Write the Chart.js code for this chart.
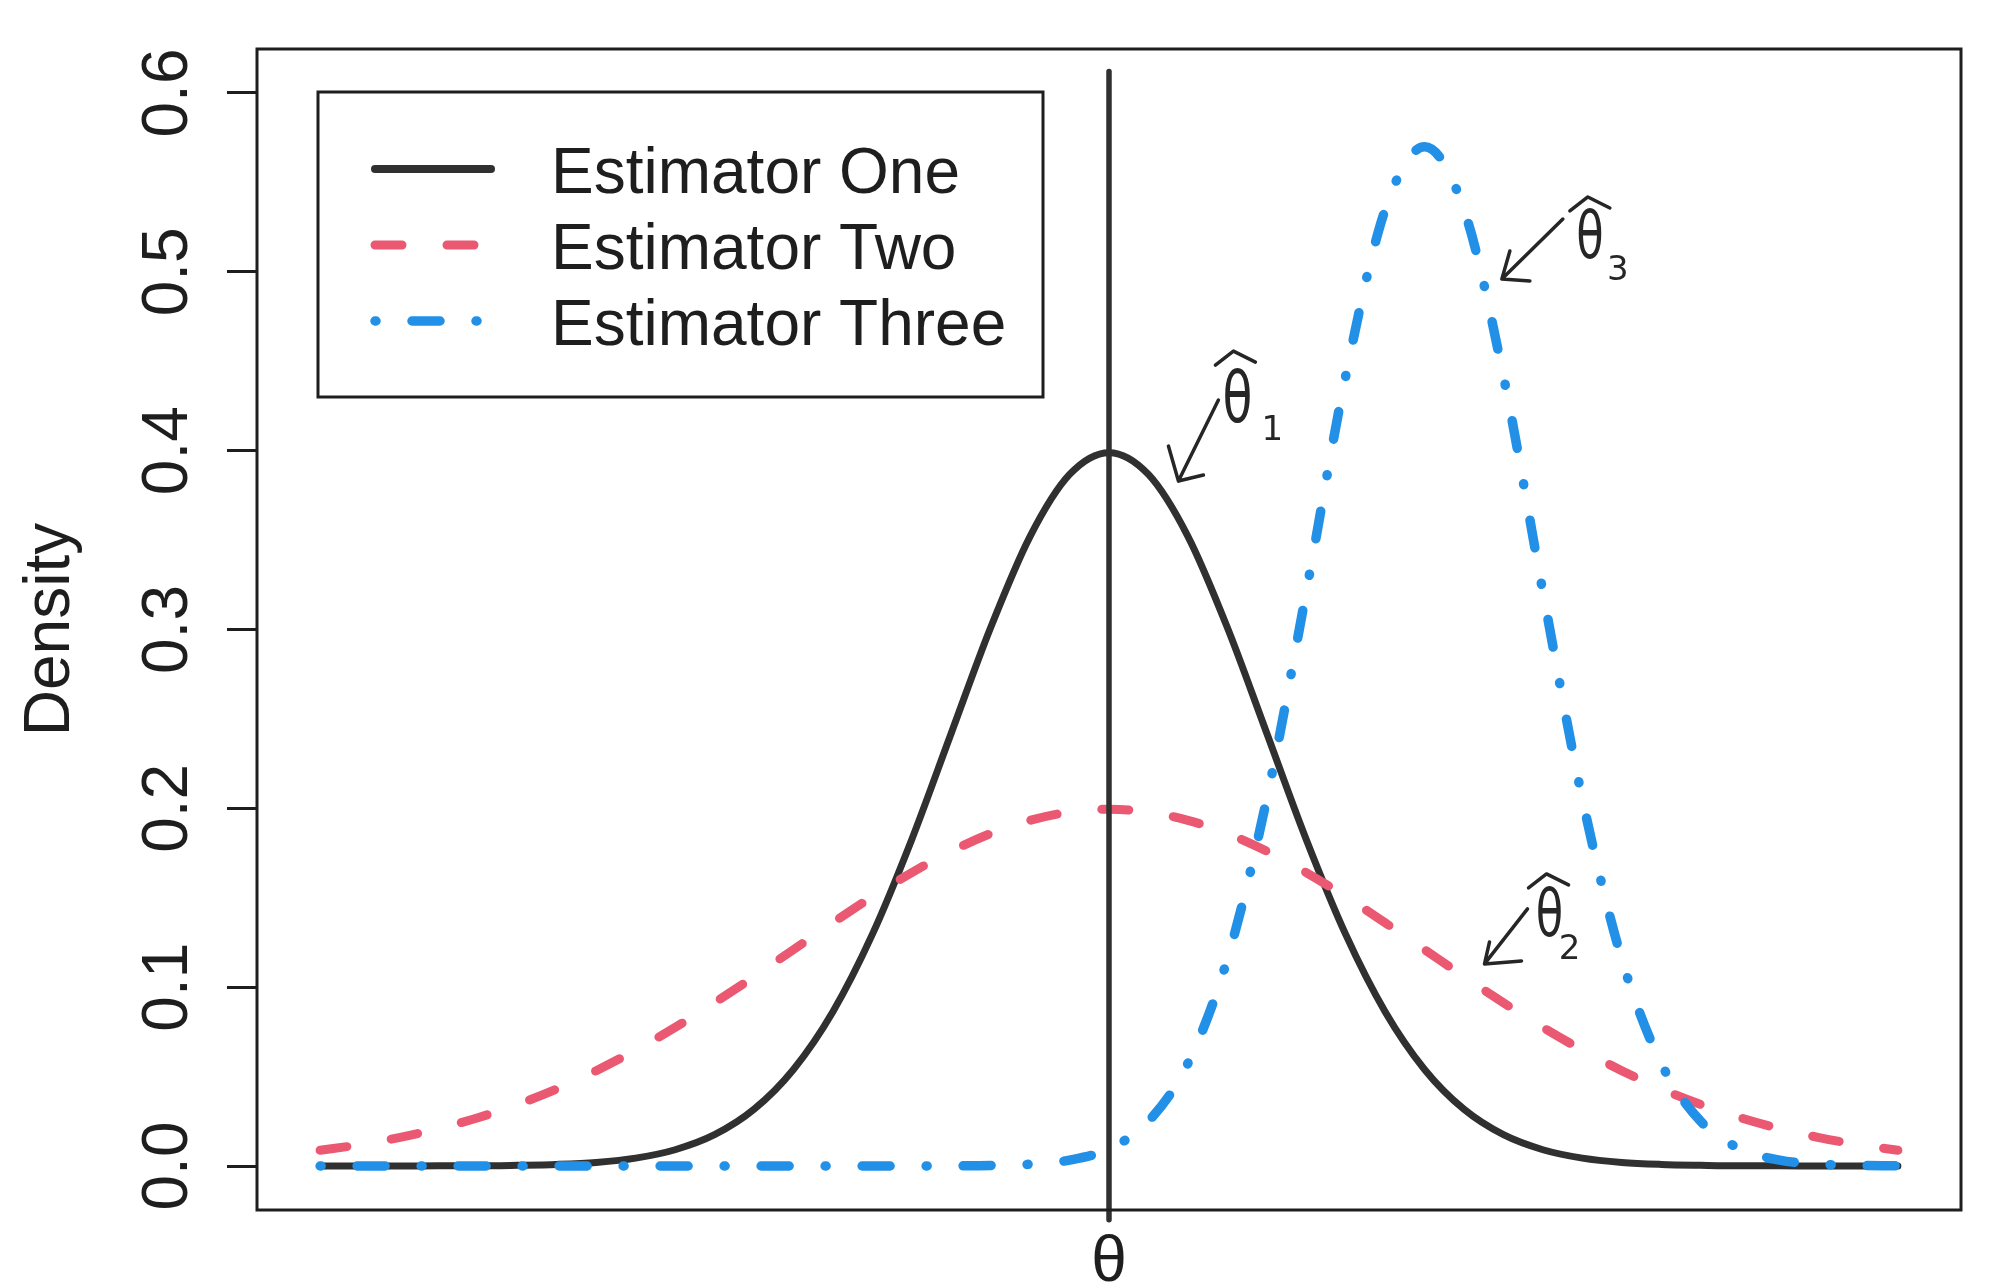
<!DOCTYPE html>
<html>
<head>
<meta charset="utf-8">
<script src="https://cdn.jsdelivr.net/npm/chart.js@4.4.1/dist/chart.umd.min.js"></script>
<style>
  html, body { margin: 0; padding: 0; background: #fff; }
  #wrap { width: 2000px; height: 1285px; }
</style>
</head>
<body>
<div id="wrap"><canvas id="densityChart" width="2000" height="1285"></canvas></div>
<script>
// x positions shared by all three curves
const xValues = [-5, -4.75, -4.5, -4.25, -4, -3.75, -3.5, -3.25, -3, -2.75, -2.5, -2.25, -2, -1.75, -1.5, -1.25, -1, -0.75, -0.5, -0.25,
  0, 0.25, 0.5, 0.75, 1, 1.25, 1.5, 1.75, 2, 2.25, 2.5, 2.75, 3, 3.25, 3.5, 3.75, 4, 4.25, 4.5, 4.75, 5];

// density
const estimatorOne = [0.0000, 0.0000, 0.0000, 0.0001, 0.0001, 0.0004, 0.0009, 0.0020, 0.0044, 0.0091, 0.0175, 0.0317, 0.0540, 0.0863, 0.1295, 0.1826, 0.2420, 0.3011, 0.3521, 0.3867,
  0.3989, 0.3867, 0.3521, 0.3011, 0.2420, 0.1826, 0.1295, 0.0863, 0.0540, 0.0317, 0.0175, 0.0091, 0.0044, 0.0020, 0.0009, 0.0004, 0.0001, 0.0001, 0.0000, 0.0000, 0.0000];
const estimatorTwo = [0.0088, 0.0119, 0.0159, 0.0209, 0.0270, 0.0344, 0.0431, 0.0533, 0.0648, 0.0775, 0.0913, 0.1059, 0.1210, 0.1360, 0.1506, 0.1641, 0.1760, 0.1859, 0.1933, 0.1979,
  0.1995, 0.1979, 0.1933, 0.1859, 0.1760, 0.1641, 0.1506, 0.1360, 0.1210, 0.1059, 0.0913, 0.0775, 0.0648, 0.0533, 0.0431, 0.0344, 0.0270, 0.0209, 0.0159, 0.0119, 0.0088];
const estimatorThree = [0.0000, 0.0000, 0.0000, 0.0000, 0.0000, 0.0000, 0.0000, 0.0000, 0.0000, 0.0000, 0.0000, 0.0000, 0.0000, 0.0000, 0.0000, 0.0000, 0.0001, 0.0003, 0.0010, 0.0033,
  0.0096, 0.0250, 0.0574, 0.1157, 0.2054, 0.3210, 0.4416, 0.5347, 0.5699, 0.5347, 0.4416, 0.3210, 0.2054, 0.1157, 0.0574, 0.0250, 0.0096, 0.0033, 0.0010, 0.0003, 0.0001];

// vertical reference line at the true value
const thetaLineX = [0, 0];
const thetaLineY = [-0.03, 0.612];

const seriesNames = ['Estimator One', 'Estimator Two', 'Estimator Three'];
const yTickValues = [0, 0.1, 0.2, 0.3, 0.4, 0.5, 0.6];
const yTickLabels = ['0.0', '0.1', '0.2', '0.3', '0.4', '0.5', '0.6'];
const xTickValue = 0;
const xTickLabel = 'θ';

// hand-written arrows: tip sits on the curve (data units)
const hatTips = [
  { sub: '1', x: 0.44, y: 0.383 },
  { sub: '2', x: 2.38, y: 0.113 },
  { sub: '3', x: 2.49, y: 0.496 }
];

const COLORS = { one: '#303030', two: '#EA5872', three: '#2290E6', ink: '#1e1e1e' };
const FONT = '"Liberation Sans", Arial, Helvetica, sans-serif';
const DASH_TWO = [27, 45];
const DASH_THREE = [1, 36, 28, 36];

const points = ys => xValues.map((x, i) => ({ x, y: ys[i] }));

/** box, rotated y labels, theta label, legend and pen notes */
const rDecor = {
  id: 'rDecor',
  afterDatasetsDraw(chart) {
    const { ctx, chartArea: a, scales: { x, y } } = chart;
    ctx.save();

    // plot frame
    ctx.strokeStyle = COLORS.ink;
    ctx.lineWidth = 3;
    ctx.strokeRect(a.left, a.top, a.right - a.left, a.bottom - a.top);

    // y tick labels, turned like R's las=0
    ctx.fillStyle = COLORS.ink;
    ctx.font = `64px ${FONT}`;
    ctx.textAlign = 'center';
    ctx.textBaseline = 'alphabetic';
    yTickValues.forEach((v, i) => {
      ctx.save();
      ctx.translate(a.left - 70, y.getPixelForValue(v));
      ctx.rotate(-Math.PI / 2);
      ctx.fillText(yTickLabels[i], 0, 0);
      ctx.restore();
    });

    // x label
    ctx.fillText(xTickLabel, x.getPixelForValue(xTickValue), a.bottom + 71);

    // legend
    const lx = a.left + 61, ly = a.top + 43;
    ctx.lineWidth = 3;
    ctx.strokeRect(lx, ly, 725, 305);
    const rows = [
      { color: COLORS.one, width: 8, dash: [] },
      { color: COLORS.two, width: 9, dash: DASH_TWO },
      { color: COLORS.three, width: 9.5, dash: DASH_THREE }
    ];
    rows.forEach((r, i) => {
      const cy = ly + 77 + i * 76;
      ctx.save();
      ctx.strokeStyle = r.color;
      ctx.lineWidth = r.width;
      ctx.lineCap = 'round';
      ctx.setLineDash(r.dash);
      ctx.beginPath();
      ctx.moveTo(lx + 57, cy);
      ctx.lineTo(lx + 173, cy);
      ctx.stroke();
      ctx.restore();

      ctx.textAlign = 'left';
      ctx.fillText(seriesNames[i], lx + 233, cy + 24);
    });

    // pen annotations
    const notes = {
      '1': { tail: [40, -81], h1: [-10, -35], h2: [25, -6], th: [59, -78], size: 72, hat: [55, -123], sb: [94, -50] },
      '2': { tail: [43, -55], h1: [5, -22], h2: [37, -3], th: [65, -45], size: 66, hat: [62, -83], sb: [85, -14] },
      '3': { tail: [61, -60], h1: [8, -28], h2: [28, 2], th: [88, -38], size: 66, hat: [86, -75], sb: [116, -8] }
    };
    ctx.strokeStyle = '#262626';
    ctx.fillStyle = '#262626';
    ctx.lineWidth = 3.5;
    ctx.lineCap = 'round';
    ctx.lineJoin = 'round';
    hatTips.forEach(t => {
      const n = notes[t.sub];
      const px = x.getPixelForValue(t.x), py = y.getPixelForValue(t.y);
      ctx.beginPath();
      ctx.moveTo(px + n.tail[0], py + n.tail[1]);
      ctx.lineTo(px, py);
      ctx.moveTo(px + n.h1[0], py + n.h1[1]);
      ctx.lineTo(px, py);
      ctx.lineTo(px + n.h2[0], py + n.h2[1]);
      ctx.stroke();

      const hx = px + n.hat[0], hy = py + n.hat[1];
      ctx.beginPath();
      ctx.moveTo(hx - 18, hy + 7);
      ctx.lineTo(hx, hy - 7);
      ctx.lineTo(hx + 22, hy + 4);
      ctx.stroke();

      ctx.save();
      ctx.translate(px + n.th[0], py + n.th[1]);
      ctx.scale(0.68, 1);
      ctx.font = `${n.size}px "DejaVu Sans", sans-serif`;
      ctx.textAlign = 'center';
      ctx.textBaseline = 'middle';
      ctx.fillText('θ', 0, 0);
      ctx.restore();

      ctx.font = '34px "DejaVu Sans", sans-serif';
      ctx.textAlign = 'center';
      ctx.textBaseline = 'middle';
      ctx.fillText(t.sub, px + n.sb[0], py + n.sb[1]);
    });

    ctx.restore();
  }
};

new Chart(document.getElementById('densityChart'), {
  type: 'scatter',
  data: {
    datasets: [
      {
        label: 'theta',
        data: thetaLineX.map((x, i) => ({ x, y: thetaLineY[i] })),
        showLine: true, borderColor: COLORS.one, borderWidth: 5.5, borderCapStyle: 'round',
        pointRadius: 0, clip: false, order: 0
      },
      {
        label: seriesNames[2],
        data: points(estimatorThree),
        showLine: true, borderColor: COLORS.three, borderWidth: 9.5, borderCapStyle: 'round',
        borderDash: DASH_THREE, cubicInterpolationMode: 'monotone', pointRadius: 0, order: 1
      },
      {
        label: seriesNames[1],
        data: points(estimatorTwo),
        showLine: true, borderColor: COLORS.two, borderWidth: 9, borderCapStyle: 'round',
        borderDash: DASH_TWO, cubicInterpolationMode: 'monotone', pointRadius: 0, order: 2
      },
      {
        label: seriesNames[0],
        data: points(estimatorOne),
        showLine: true, borderColor: COLORS.one, borderWidth: 7, borderCapStyle: 'round',
        cubicInterpolationMode: 'monotone', pointRadius: 0, order: 3
      }
    ]
  },
  options: {
    responsive: false,
    devicePixelRatio: 1,
    animation: false,
    layout: { padding: { top: 49, right: 39, bottom: 75, left: 0 } },
    plugins: { legend: { display: false }, tooltip: { enabled: false } },
    scales: {
      x: { type: 'linear', min: -5.4, max: 5.4, display: false },
      y: {
        min: -0.0246,
        max: 0.6246,
        afterBuildTicks: s => { s.ticks = yTickValues.map(v => ({ value: v })); },
        afterFit: s => { s.width = 257; },
        grid: { drawOnChartArea: false, drawTicks: true, tickLength: 30, tickWidth: 3, tickColor: COLORS.ink },
        border: { display: false },
        ticks: { display: false },
        title: {
          display: true, text: 'Density', color: COLORS.ink,
          font: { family: FONT, size: 64 }, padding: { top: 13, bottom: 0 }
        }
      }
    }
  },
  plugins: [rDecor]
});
</script>
</body>
</html>
